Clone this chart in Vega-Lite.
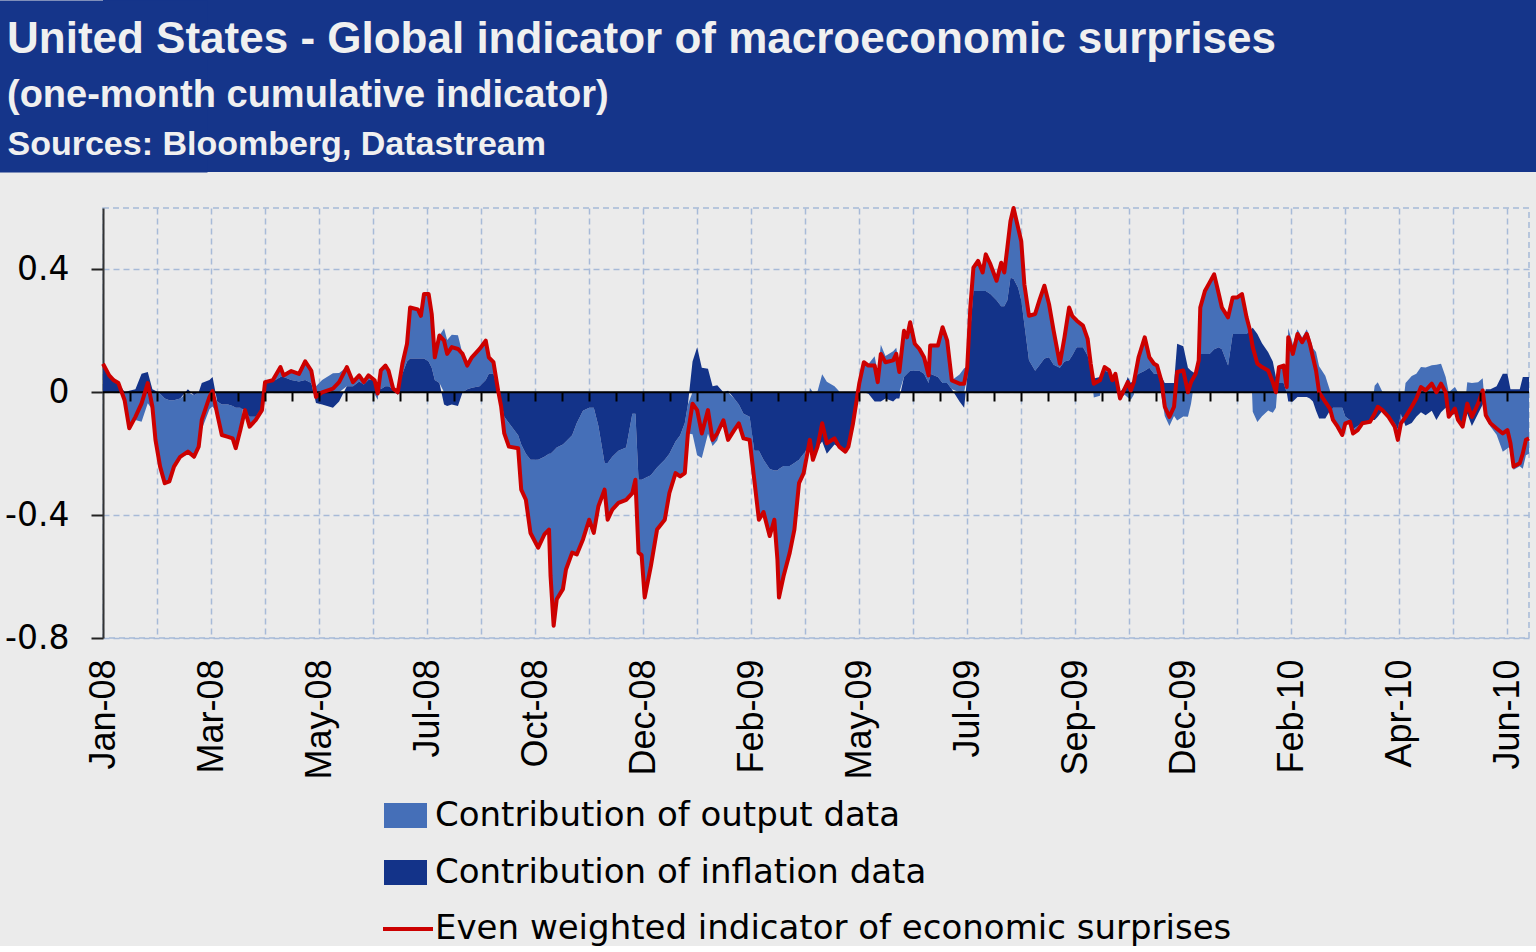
{
"$schema": "https://vega.github.io/schema/vega-lite/v6.json",
"background": "#ebebeb",
"padding": {"left": -2, "top": 0, "right": 0, "bottom": 0},
"spacing": 33,
"datasets": {
"surprises": [
{"d":"2008-01-01","o":0.008,"i":0.085,"t":0.093},
{"d":"2008-01-05","o":0.005,"i":0.05,"t":0.055},
{"d":"2008-01-08","o":0.004,"i":0.035,"t":0.039},
{"d":"2008-01-11","o":0,"i":0.03,"t":0.03},
{"d":"2008-01-15","o":-0.026,"i":0,"t":-0.026},
{"d":"2008-01-18","o":-0.122,"i":0.005,"t":-0.117},
{"d":"2008-01-22","o":-0.09,"i":0.01,"t":-0.08},
{"d":"2008-01-26","o":-0.096,"i":0.06,"t":-0.036},
{"d":"2008-01-30","o":-0.036,"i":0.066,"t":0.03},
{"d":"2008-02-02","o":-0.057,"i":0.01,"t":-0.047},
{"d":"2008-02-04","o":-0.16,"i":0.005,"t":-0.155},
{"d":"2008-02-07","o":-0.237,"i":-0.005,"t":-0.242},
{"d":"2008-02-10","o":-0.276,"i":-0.02,"t":-0.296},
{"d":"2008-02-13","o":-0.264,"i":-0.026,"t":-0.29},
{"d":"2008-02-16","o":-0.216,"i":-0.026,"t":-0.242},
{"d":"2008-02-20","o":-0.19,"i":-0.02,"t":-0.21},
{"d":"2008-02-25","o":-0.203,"i":0.01,"t":-0.193},
{"d":"2008-02-29","o":-0.2,"i":-0.01,"t":-0.21},
{"d":"2008-03-03","o":-0.177,"i":0,"t":-0.177},
{"d":"2008-03-05","o":-0.12,"i":0.03,"t":-0.09},
{"d":"2008-03-10","o":-0.055,"i":0.04,"t":-0.015},
{"d":"2008-03-12","o":-0.046,"i":0.05,"t":0.004},
{"d":"2008-03-15","o":-0.04,"i":-0.03,"t":-0.07},
{"d":"2008-03-18","o":-0.099,"i":-0.04,"t":-0.139},
{"d":"2008-03-22","o":-0.105,"i":-0.04,"t":-0.145},
{"d":"2008-03-25","o":-0.105,"i":-0.045,"t":-0.15},
{"d":"2008-03-27","o":-0.132,"i":-0.05,"t":-0.182},
{"d":"2008-03-30","o":-0.073,"i":-0.05,"t":-0.123},
{"d":"2008-04-02","o":0,"i":-0.058,"t":-0.058},
{"d":"2008-04-05","o":-0.032,"i":-0.08,"t":-0.112},
{"d":"2008-04-09","o":-0.01,"i":-0.08,"t":-0.09},
{"d":"2008-04-13","o":-0.008,"i":-0.05,"t":-0.058},
{"d":"2008-04-15","o":0.003,"i":0.03,"t":0.033},
{"d":"2008-04-20","o":0.004,"i":0.035,"t":0.039},
{"d":"2008-04-25","o":0.032,"i":0.05,"t":0.082},
{"d":"2008-04-27","o":0.005,"i":0.05,"t":0.055},
{"d":"2008-05-02","o":0.029,"i":0.04,"t":0.069},
{"d":"2008-05-07","o":0.025,"i":0.035,"t":0.06},
{"d":"2008-05-11","o":0.061,"i":0.04,"t":0.101},
{"d":"2008-05-15","o":0.04,"i":0.03,"t":0.07},
{"d":"2008-05-18","o":0.02,"i":-0.035,"t":-0.015},
{"d":"2008-05-22","o":0.04,"i":-0.04,"t":0},
{"d":"2008-05-29","o":0.062,"i":-0.05,"t":0.012},
{"d":"2008-06-02","o":0.063,"i":-0.03,"t":0.033},
{"d":"2008-06-07","o":0.062,"i":0.02,"t":0.082},
{"d":"2008-06-11","o":0.013,"i":0.02,"t":0.033},
{"d":"2008-06-15","o":0.02,"i":0.035,"t":0.055},
{"d":"2008-06-18","o":0.008,"i":0.025,"t":0.033},
{"d":"2008-06-21","o":0.015,"i":0.04,"t":0.055},
{"d":"2008-06-25","o":-0.006,"i":0.045,"t":0.039},
{"d":"2008-06-27","o":-0.024,"i":0.02,"t":-0.004},
{"d":"2008-06-29","o":0.061,"i":0.01,"t":0.071},
{"d":"2008-07-02","o":0.067,"i":0.02,"t":0.087},
{"d":"2008-07-04","o":0.051,"i":0.02,"t":0.071},
{"d":"2008-07-07","o":0.002,"i":0.01,"t":0.012},
{"d":"2008-07-10","o":-0.01,"i":0.01,"t":0},
{"d":"2008-07-13","o":0.033,"i":0.06,"t":0.093},
{"d":"2008-07-16","o":0.058,"i":0.1,"t":0.158},
{"d":"2008-07-18","o":0.166,"i":0.11,"t":0.276},
{"d":"2008-07-23","o":0.16,"i":0.11,"t":0.27},
{"d":"2008-07-25","o":0.139,"i":0.11,"t":0.249},
{"d":"2008-07-27","o":0.21,"i":0.11,"t":0.32},
{"d":"2008-07-30","o":0.22,"i":0.1,"t":0.32},
{"d":"2008-08-01","o":0.175,"i":0.08,"t":0.255},
{"d":"2008-08-03","o":0.074,"i":0.04,"t":0.114},
{"d":"2008-08-06","o":0.155,"i":0.03,"t":0.185},
{"d":"2008-08-09","o":0.208,"i":-0.04,"t":0.168},
{"d":"2008-08-11","o":0.17,"i":-0.045,"t":0.125},
{"d":"2008-08-14","o":0.187,"i":-0.04,"t":0.147},
{"d":"2008-08-18","o":0.186,"i":-0.045,"t":0.141},
{"d":"2008-08-21","o":0.125,"i":0,"t":0.125},
{"d":"2008-08-24","o":0.077,"i":0.01,"t":0.087},
{"d":"2008-08-27","o":0.099,"i":0.015,"t":0.114},
{"d":"2008-09-01","o":0.121,"i":0.02,"t":0.141},
{"d":"2008-09-05","o":0.128,"i":0.04,"t":0.168},
{"d":"2008-09-07","o":0.054,"i":0.06,"t":0.114},
{"d":"2008-09-10","o":0.038,"i":0.06,"t":0.098},
{"d":"2008-09-13","o":0.006,"i":0,"t":0.006},
{"d":"2008-09-15","o":-0.017,"i":-0.03,"t":-0.047},
{"d":"2008-09-17","o":-0.054,"i":-0.08,"t":-0.134},
{"d":"2008-09-20","o":-0.077,"i":-0.1,"t":-0.177},
{"d":"2008-09-26","o":-0.042,"i":-0.14,"t":-0.182},
{"d":"2008-09-28","o":-0.147,"i":-0.17,"t":-0.317},
{"d":"2008-10-01","o":-0.15,"i":-0.2,"t":-0.35},
{"d":"2008-10-04","o":-0.238,"i":-0.22,"t":-0.458},
{"d":"2008-10-09","o":-0.286,"i":-0.22,"t":-0.506},
{"d":"2008-10-13","o":-0.253,"i":-0.21,"t":-0.463},
{"d":"2008-10-16","o":-0.247,"i":-0.2,"t":-0.447},
{"d":"2008-10-17","o":-0.398,"i":-0.2,"t":-0.598},
{"d":"2008-10-19","o":-0.57,"i":-0.19,"t":-0.76},
{"d":"2008-10-21","o":-0.494,"i":-0.18,"t":-0.674},
{"d":"2008-10-25","o":-0.471,"i":-0.17,"t":-0.641},
{"d":"2008-10-27","o":-0.417,"i":-0.16,"t":-0.577},
{"d":"2008-10-31","o":-0.382,"i":-0.14,"t":-0.522},
{"d":"2008-11-03","o":-0.428,"i":-0.1,"t":-0.528},
{"d":"2008-11-07","o":-0.419,"i":-0.06,"t":-0.479},
{"d":"2008-11-11","o":-0.365,"i":-0.05,"t":-0.415},
{"d":"2008-11-14","o":-0.408,"i":-0.05,"t":-0.458},
{"d":"2008-11-17","o":-0.261,"i":-0.11,"t":-0.371},
{"d":"2008-11-21","o":-0.087,"i":-0.23,"t":-0.317},
{"d":"2008-11-23","o":-0.185,"i":-0.23,"t":-0.415},
{"d":"2008-11-26","o":-0.172,"i":-0.21,"t":-0.382},
{"d":"2008-11-30","o":-0.17,"i":-0.19,"t":-0.36},
{"d":"2008-12-05","o":-0.17,"i":-0.18,"t":-0.35},
{"d":"2008-12-09","o":-0.258,"i":-0.07,"t":-0.328},
{"d":"2008-12-11","o":-0.215,"i":-0.07,"t":-0.285},
{"d":"2008-12-13","o":-0.237,"i":-0.285,"t":-0.522},
{"d":"2008-12-15","o":-0.245,"i":-0.285,"t":-0.53},
{"d":"2008-12-17","o":-0.388,"i":-0.28,"t":-0.668},
{"d":"2008-12-21","o":-0.296,"i":-0.27,"t":-0.566},
{"d":"2008-12-25","o":-0.202,"i":-0.245,"t":-0.447},
{"d":"2008-12-30","o":-0.195,"i":-0.22,"t":-0.415},
{"d":"2009-01-02","o":-0.128,"i":-0.2,"t":-0.328},
{"d":"2009-01-06","o":-0.103,"i":-0.16,"t":-0.263},
{"d":"2009-01-09","o":-0.134,"i":-0.14,"t":-0.274},
{"d":"2009-01-12","o":-0.163,"i":-0.1,"t":-0.263},
{"d":"2009-01-14","o":-0.094,"i":-0.04,"t":-0.134},
{"d":"2009-01-17","o":-0.137,"i":0.1,"t":-0.037},
{"d":"2009-01-20","o":-0.205,"i":0.147,"t":-0.058},
{"d":"2009-01-23","o":-0.214,"i":0.08,"t":-0.134},
{"d":"2009-01-27","o":-0.135,"i":0.077,"t":-0.058},
{"d":"2009-01-30","o":-0.175,"i":0.02,"t":-0.155},
{"d":"2009-02-02","o":-0.157,"i":0.023,"t":-0.134},
{"d":"2009-02-06","o":-0.091,"i":0,"t":-0.091},
{"d":"2009-02-09","o":-0.16,"i":0.005,"t":-0.155},
{"d":"2009-02-13","o":-0.103,"i":-0.02,"t":-0.123},
{"d":"2009-02-16","o":-0.061,"i":-0.04,"t":-0.101},
{"d":"2009-02-19","o":-0.08,"i":-0.07,"t":-0.15},
{"d":"2009-02-23","o":-0.075,"i":-0.08,"t":-0.155},
{"d":"2009-02-26","o":-0.095,"i":-0.19,"t":-0.285},
{"d":"2009-03-01","o":-0.225,"i":-0.19,"t":-0.415},
{"d":"2009-03-04","o":-0.17,"i":-0.22,"t":-0.39},
{"d":"2009-03-08","o":-0.218,"i":-0.25,"t":-0.468},
{"d":"2009-03-11","o":-0.16,"i":-0.255,"t":-0.415},
{"d":"2009-03-13","o":-0.289,"i":-0.255,"t":-0.544},
{"d":"2009-03-14","o":-0.418,"i":-0.25,"t":-0.668},
{"d":"2009-03-17","o":-0.358,"i":-0.24,"t":-0.598},
{"d":"2009-03-21","o":-0.282,"i":-0.24,"t":-0.522},
{"d":"2009-03-24","o":-0.217,"i":-0.23,"t":-0.447},
{"d":"2009-03-27","o":-0.076,"i":-0.22,"t":-0.296},
{"d":"2009-03-30","o":-0.063,"i":-0.2,"t":-0.263},
{"d":"2009-04-03","o":0.015,"i":-0.17,"t":-0.155},
{"d":"2009-04-05","o":0,"i":-0.22,"t":-0.22},
{"d":"2009-04-08","o":0.003,"i":-0.18,"t":-0.177},
{"d":"2009-04-11","o":0.059,"i":-0.16,"t":-0.101},
{"d":"2009-04-14","o":0.034,"i":-0.2,"t":-0.166},
{"d":"2009-04-19","o":0.02,"i":-0.17,"t":-0.15},
{"d":"2009-04-22","o":0.003,"i":-0.18,"t":-0.177},
{"d":"2009-04-26","o":-0.003,"i":-0.19,"t":-0.193},
{"d":"2009-04-28","o":-0.007,"i":-0.17,"t":-0.177},
{"d":"2009-05-01","o":-0.001,"i":-0.1,"t":-0.101},
{"d":"2009-05-03","o":0.003,"i":-0.04,"t":-0.037},
{"d":"2009-05-05","o":0.028,"i":0,"t":0.028},
{"d":"2009-05-08","o":0.098,"i":0,"t":0.098},
{"d":"2009-05-11","o":0.092,"i":-0.005,"t":0.087},
{"d":"2009-05-15","o":0.117,"i":-0.03,"t":0.087},
{"d":"2009-05-17","o":0.063,"i":-0.03,"t":0.033},
{"d":"2009-05-19","o":0.155,"i":-0.03,"t":0.125},
{"d":"2009-05-22","o":0.118,"i":-0.02,"t":0.098},
{"d":"2009-05-27","o":0.134,"i":-0.03,"t":0.104},
{"d":"2009-05-29","o":0.145,"i":-0.02,"t":0.125},
{"d":"2009-05-31","o":0.086,"i":-0.02,"t":0.066},
{"d":"2009-06-03","o":0.15,"i":0.05,"t":0.2},
{"d":"2009-06-05","o":0.119,"i":0.06,"t":0.179},
{"d":"2009-06-07","o":0.158,"i":0.07,"t":0.228},
{"d":"2009-06-10","o":0.088,"i":0.07,"t":0.158},
{"d":"2009-06-13","o":0.071,"i":0.07,"t":0.141},
{"d":"2009-06-16","o":0.054,"i":0.06,"t":0.114},
{"d":"2009-06-19","o":0.025,"i":0.03,"t":0.055},
{"d":"2009-06-20","o":0.092,"i":0.06,"t":0.152},
{"d":"2009-06-25","o":0.102,"i":0.05,"t":0.152},
{"d":"2009-06-28","o":0.182,"i":0.03,"t":0.212},
{"d":"2009-07-01","o":0.138,"i":0.03,"t":0.168},
{"d":"2009-07-04","o":0.029,"i":0.01,"t":0.039},
{"d":"2009-07-09","o":0.058,"i":-0.03,"t":0.028},
{"d":"2009-07-12","o":0.078,"i":-0.05,"t":0.028},
{"d":"2009-07-14","o":0.032,"i":0.05,"t":0.082},
{"d":"2009-07-16","o":0.076,"i":0.2,"t":0.276},
{"d":"2009-07-18","o":0.076,"i":0.33,"t":0.406},
{"d":"2009-07-21","o":0.098,"i":0.33,"t":0.428},
{"d":"2009-07-24","o":0.06,"i":0.33,"t":0.39},
{"d":"2009-07-26","o":0.119,"i":0.33,"t":0.449},
{"d":"2009-07-29","o":0.097,"i":0.32,"t":0.417},
{"d":"2009-08-02","o":0.063,"i":0.3,"t":0.363},
{"d":"2009-08-05","o":0.142,"i":0.28,"t":0.422},
{"d":"2009-08-07","o":0.11,"i":0.28,"t":0.39},
{"d":"2009-08-09","o":0.171,"i":0.3,"t":0.471},
{"d":"2009-08-11","o":0.184,"i":0.373,"t":0.557},
{"d":"2009-08-13","o":0.23,"i":0.37,"t":0.6},
{"d":"2009-08-16","o":0.195,"i":0.34,"t":0.535},
{"d":"2009-08-18","o":0.192,"i":0.3,"t":0.492},
{"d":"2009-08-20","o":0.13,"i":0.222,"t":0.352},
{"d":"2009-08-23","o":0.145,"i":0.104,"t":0.249},
{"d":"2009-08-27","o":0.185,"i":0.07,"t":0.255},
{"d":"2009-08-30","o":0.213,"i":0.09,"t":0.303},
{"d":"2009-09-02","o":0.237,"i":0.11,"t":0.347},
{"d":"2009-09-05","o":0.173,"i":0.114,"t":0.287},
{"d":"2009-09-08","o":0.11,"i":0.09,"t":0.2},
{"d":"2009-09-12","o":0.013,"i":0.08,"t":0.093},
{"d":"2009-09-15","o":0.079,"i":0.1,"t":0.179},
{"d":"2009-09-18","o":0.172,"i":0.104,"t":0.276},
{"d":"2009-09-20","o":0.129,"i":0.12,"t":0.249},
{"d":"2009-09-23","o":0.086,"i":0.147,"t":0.233},
{"d":"2009-09-27","o":0.07,"i":0.147,"t":0.217},
{"d":"2009-09-30","o":0.054,"i":0.12,"t":0.174},
{"d":"2009-10-02","o":0.013,"i":0.08,"t":0.093},
{"d":"2009-10-04","o":-0.017,"i":0.045,"t":0.028},
{"d":"2009-10-08","o":-0.011,"i":0.05,"t":0.039},
{"d":"2009-10-11","o":0.012,"i":0.07,"t":0.082},
{"d":"2009-10-14","o":0.006,"i":0.065,"t":0.071},
{"d":"2009-10-16","o":-0.001,"i":0.04,"t":0.039},
{"d":"2009-10-18","o":0.01,"i":0.05,"t":0.06},
{"d":"2009-10-21","o":-0.02,"i":0,"t":-0.02},
{"d":"2009-10-24","o":-0.008,"i":0.02,"t":0.012},
{"d":"2009-10-26","o":-0.017,"i":0.05,"t":0.033},
{"d":"2009-10-28","o":-0.024,"i":0.03,"t":0.006},
{"d":"2009-10-30","o":-0.007,"i":0.04,"t":0.033},
{"d":"2009-11-02","o":0.054,"i":0.06,"t":0.114},
{"d":"2009-11-06","o":0.109,"i":0.07,"t":0.179},
{"d":"2009-11-09","o":0.034,"i":0.08,"t":0.114},
{"d":"2009-11-12","o":0.033,"i":0.06,"t":0.093},
{"d":"2009-11-14","o":0.027,"i":0.06,"t":0.087},
{"d":"2009-11-17","o":-0.017,"i":0.05,"t":0.033},
{"d":"2009-11-19","o":-0.077,"i":0.03,"t":-0.047},
{"d":"2009-11-22","o":-0.11,"i":0.03,"t":-0.08},
{"d":"2009-11-25","o":-0.077,"i":0.03,"t":-0.047},
{"d":"2009-11-27","o":-0.092,"i":0.158,"t":0.066},
{"d":"2009-12-01","o":-0.079,"i":0.15,"t":0.071},
{"d":"2009-12-04","o":-0.08,"i":0.08,"t":0},
{"d":"2009-12-06","o":-0.037,"i":0.07,"t":0.033},
{"d":"2009-12-09","o":0,"i":0.06,"t":0.06},
{"d":"2009-12-11","o":0.004,"i":0.1,"t":0.104},
{"d":"2009-12-12","o":0.151,"i":0.125,"t":0.276},
{"d":"2009-12-15","o":0.205,"i":0.125,"t":0.33},
{"d":"2009-12-18","o":0.232,"i":0.125,"t":0.357},
{"d":"2009-12-21","o":0.244,"i":0.14,"t":0.384},
{"d":"2009-12-24","o":0.173,"i":0.147,"t":0.32},
{"d":"2009-12-26","o":0.136,"i":0.14,"t":0.276},
{"d":"2009-12-30","o":0.157,"i":0.087,"t":0.244},
{"d":"2010-01-02","o":0.119,"i":0.19,"t":0.309},
{"d":"2010-01-05","o":0.119,"i":0.19,"t":0.309},
{"d":"2010-01-08","o":0.13,"i":0.19,"t":0.32},
{"d":"2010-01-11","o":0.054,"i":0.19,"t":0.244},
{"d":"2010-01-13","o":0.006,"i":0.2,"t":0.206},
{"d":"2010-01-15","o":-0.063,"i":0.21,"t":0.147},
{"d":"2010-01-18","o":-0.097,"i":0.19,"t":0.093},
{"d":"2010-01-21","o":-0.078,"i":0.16,"t":0.082},
{"d":"2010-01-25","o":-0.059,"i":0.13,"t":0.071},
{"d":"2010-01-28","o":-0.067,"i":0.1,"t":0.033},
{"d":"2010-01-30","o":-0.05,"i":0.05,"t":0},
{"d":"2010-02-01","o":0.052,"i":0.03,"t":0.082},
{"d":"2010-02-04","o":0.057,"i":0.03,"t":0.087},
{"d":"2010-02-06","o":0.017,"i":0,"t":0.017},
{"d":"2010-02-07","o":0.209,"i":-0.03,"t":0.179},
{"d":"2010-02-10","o":0.155,"i":-0.03,"t":0.125},
{"d":"2010-02-13","o":0.205,"i":-0.015,"t":0.19},
{"d":"2010-02-16","o":0.178,"i":-0.015,"t":0.163},
{"d":"2010-02-19","o":0.205,"i":-0.015,"t":0.19},
{"d":"2010-02-21","o":0.178,"i":-0.02,"t":0.158},
{"d":"2010-02-23","o":0.144,"i":-0.03,"t":0.114},
{"d":"2010-02-25","o":0.131,"i":-0.06,"t":0.071},
{"d":"2010-02-27","o":0.085,"i":-0.085,"t":0},
{"d":"2010-03-03","o":0.054,"i":-0.085,"t":-0.031},
{"d":"2010-03-06","o":0.007,"i":-0.06,"t":-0.053},
{"d":"2010-03-08","o":-0.04,"i":-0.05,"t":-0.09},
{"d":"2010-03-11","o":-0.062,"i":-0.05,"t":-0.112},
{"d":"2010-03-14","o":-0.089,"i":-0.05,"t":-0.139},
{"d":"2010-03-16","o":-0.021,"i":-0.08,"t":-0.101},
{"d":"2010-03-19","o":-0.006,"i":-0.09,"t":-0.096},
{"d":"2010-03-21","o":-0.014,"i":-0.12,"t":-0.134},
{"d":"2010-03-24","o":-0.013,"i":-0.11,"t":-0.123},
{"d":"2010-03-27","o":-0.001,"i":-0.1,"t":-0.101},
{"d":"2010-04-01","o":-0.006,"i":-0.09,"t":-0.096},
{"d":"2010-04-04","o":0.021,"i":-0.09,"t":-0.069},
{"d":"2010-04-06","o":0.033,"i":-0.08,"t":-0.047},
{"d":"2010-04-09","o":0.002,"i":-0.06,"t":-0.058},
{"d":"2010-04-13","o":0,"i":-0.08,"t":-0.08},
{"d":"2010-04-17","o":-0.012,"i":-0.1,"t":-0.112},
{"d":"2010-04-19","o":-0.035,"i":-0.12,"t":-0.155},
{"d":"2010-04-21","o":-0.031,"i":-0.07,"t":-0.101},
{"d":"2010-04-24","o":0.03,"i":-0.11,"t":-0.08},
{"d":"2010-04-28","o":0.053,"i":-0.1,"t":-0.047},
{"d":"2010-05-01","o":0.06,"i":-0.08,"t":-0.02},
{"d":"2010-05-04","o":0.082,"i":-0.065,"t":0.017},
{"d":"2010-05-07","o":0.081,"i":-0.075,"t":0.006},
{"d":"2010-05-11","o":0.088,"i":-0.06,"t":0.028},
{"d":"2010-05-14","o":0.09,"i":-0.09,"t":0},
{"d":"2010-05-17","o":0.093,"i":-0.065,"t":0.028},
{"d":"2010-05-20","o":0.05,"i":-0.05,"t":0},
{"d":"2010-05-22","o":0,"i":-0.08,"t":-0.08},
{"d":"2010-05-26","o":0.017,"i":-0.07,"t":-0.053},
{"d":"2010-05-28","o":0,"i":-0.09,"t":-0.09},
{"d":"2010-05-31","o":-0.012,"i":-0.1,"t":-0.112},
{"d":"2010-06-03","o":0.033,"i":-0.07,"t":-0.037},
{"d":"2010-06-06","o":0.03,"i":-0.11,"t":-0.08},
{"d":"2010-06-10","o":0.033,"i":-0.07,"t":-0.037},
{"d":"2010-06-13","o":0.046,"i":-0.04,"t":0.006},
{"d":"2010-06-15","o":-0.085,"i":0.01,"t":-0.075},
{"d":"2010-06-18","o":-0.111,"i":0.01,"t":-0.101},
{"d":"2010-06-22","o":-0.138,"i":0.02,"t":-0.118},
{"d":"2010-06-26","o":-0.194,"i":0.06,"t":-0.134},
{"d":"2010-06-29","o":-0.183,"i":0.06,"t":-0.123},
{"d":"2010-07-01","o":-0.176,"i":0.01,"t":-0.166},
{"d":"2010-07-03","o":-0.252,"i":0.01,"t":-0.242},
{"d":"2010-07-07","o":-0.241,"i":0.01,"t":-0.231},
{"d":"2010-07-09","o":-0.249,"i":0.05,"t":-0.199},
{"d":"2010-07-11","o":-0.205,"i":0.05,"t":-0.155},
{"d":"2010-07-13","o":-0.2,"i":0.05,"t":-0.15}
]
},
"vconcat": [
{
"width": 1434,
"height": 172,
"view": {"fill": "#15358a", "stroke": null},
"data": {"values": [{"k": 0}]},
"mark": {"type": "point", "opacity": 0},
"encoding": {
"x": {"field": "k", "type": "quantitative", "axis": {"title": "Sources: Bloomberg, Datastream", "zindex": 2, "labels": false, "ticks": false, "domain": false, "grid": false, "titleFont": "Liberation Sans", "titleFontSize": 34, "titleFontWeight": "bold", "titleColor": "#f0f0f0", "titleAnchor": "start", "titleAlign": "left", "titleBaseline": "alphabetic", "titleX": -96, "titleY": -18}},
"y": {"field": "k", "type": "quantitative", "axis": {"orient": "left", "zindex": 0, "title": null, "labels": false, "ticks": false, "grid": false, "domain": true, "domainColor": "#15358a", "domainWidth": 208, "minExtent": 0}}
},
"title": {"text": "United States - Global indicator of macroeconomic surprises", "subtitle": "(one-month cumulative indicator)", "anchor": "start", "frame": "group", "orient": "top", "offset": -115, "dx": -96, "zindex": 3, "font": "Liberation Sans", "fontSize": 44, "fontWeight": "bold", "color": "#f0f0f0", "subtitleFont": "Liberation Sans", "subtitleFontSize": 38, "subtitleFontWeight": "bold", "subtitleColor": "#f0f0f0", "subtitlePadding": 15}
},
{
"width": 1426,
"height": 430,
"view": {"stroke": "#a7bad8", "strokeDash": [6, 4], "strokeWidth": 1.5},
"data": {"name": "surprises"},
"layer": [
{
"transform": [{"fold": ["o", "i"], "as": ["key", "value"]}],
"mark": {"type": "area", "interpolate": "linear"},
"encoding": {
"x": {"field": "d", "type": "temporal", "scale": {"type": "utc", "domain": [1199145600000, 1278979200000]},
"axis": {"orient": "bottom", "title": null, "values": [1199145600000,1202169600000,1205193600000,1208217600000,1211241600000,1214265600000,1217289600000,1220313600000,1223337600000,1226361600000,1229385600000,1232409600000,1235433600000,1238457600000,1241481600000,1244505600000,1247529600000,1250553600000,1253577600000,1256601600000,1259625600000,1262649600000,1265673600000,1268697600000,1271721600000,1274745600000,1277769600000],
"labelExpr": "(round((datum.value - 1199145600000) / 3024000000) % 2 == 0) ? utcFormat(datum.value, '%b-%y') : ''",
"labelAngle": 270, "labelFont": "Liberation Sans", "labelFontSize": 36, "labelColor": "#000000", "labelPadding": 21, "labelOverlap": false, "labelFlush": false, "labelBound": false,
"ticks": false, "tickSize": 0, "domain": false, "grid": true, "gridColor": "#a7bad8", "gridDash": [6, 4], "gridWidth": 1.5}},
"y": {"field": "value", "type": "quantitative", "stack": "zero", "scale": {"domain": [-0.8, 0.6], "nice": false, "zero": false},
"axis": {"title": null, "values": [-0.8, -0.4, 0, 0.4], "labelExpr": "toString(datum.value)", "labelFont": "DejaVu Sans", "labelFontSize": 33, "labelColor": "#000000", "labelPadding": 22, "tickSize": 12, "tickWidth": 2, "tickColor": "#222222", "domainColor": "#333333", "domainWidth": 2, "grid": true, "gridColor": "#a7bad8", "gridDash": [6, 4], "gridWidth": 1.5, "minExtent": 104}},
"fill": {"field": "key", "type": "nominal", "scale": {"domain": ["o", "i"], "range": ["#456fb8", "#133389"]},
"legend": {"title": null, "orient": "none", "legendX": 281, "legendY": 794, "direction": "vertical", "symbolType": "M-1,-0.58H1V0.58H-1Z", "symbolSize": 1849, "symbolStrokeWidth": 0, "labelFont": "DejaVu Sans", "labelFontSize": 34, "labelColor": "#000000", "labelOffset": 8, "labelLimit": 1000, "rowPadding": 18, "labelExpr": "datum.label == 'o' ? 'Contribution of output data' : 'Contribution of inflation data'"}},
"order": {"field": "key", "sort": "ascending"}
}
},
{
"data": {"values": [{}]},
"mark": {"type": "rule", "color": "#000000", "strokeWidth": 2},
"encoding": {"y": {"datum": 0, "type": "quantitative", "axis": {"title": null}}}
},
{
"mark": {"type": "line", "strokeWidth": 4, "strokeJoin": "round"},
"encoding": {
"x": {"field": "d", "type": "temporal", "scale": {"type": "utc", "domain": [1199145600000, 1278979200000]},
"axis": {"orient": "bottom", "offset": -246, "title": null, "labels": false, "grid": false, "domain": false, "ticks": true, "tickSize": 9, "tickWidth": 2, "tickColor": "#000000", "zindex": 1,
"values": [1200657600000,1202169600000,1203681600000,1205193600000,1206705600000,1208217600000,1209729600000,1211241600000,1212753600000,1214265600000,1215777600000,1217289600000,1218801600000,1220313600000,1221825600000,1223337600000,1224849600000,1226361600000,1227873600000,1229385600000,1230897600000,1232409600000,1233921600000,1235433600000,1236945600000,1238457600000,1239969600000,1241481600000,1242993600000,1244505600000,1246017600000,1247529600000,1249041600000,1250553600000,1252065600000,1253577600000,1255089600000,1256601600000,1258113600000,1259625600000,1261137600000,1262649600000,1264161600000,1265673600000,1267185600000,1268697600000,1270209600000,1271721600000,1273233600000,1274745600000,1276257600000,1277769600000]}},
"y": {"field": "t", "type": "quantitative", "axis": {"title": null}},
"stroke": {"datum": "Even weighted indicator of economic surprises", "type": "nominal", "scale": {"range": ["#cc0000"]},
"legend": {"title": null, "orient": "none", "legendX": 278, "legendY": 902, "symbolType": "M-1,0H1", "symbolSize": 2500, "symbolStrokeWidth": 4, "labelFont": "DejaVu Sans", "labelFontSize": 34, "labelColor": "#000000", "labelOffset": 0, "labelLimit": 1000}}
}
}
],
"resolve": {"scale": {"x": "independent"}}
}
]
}
